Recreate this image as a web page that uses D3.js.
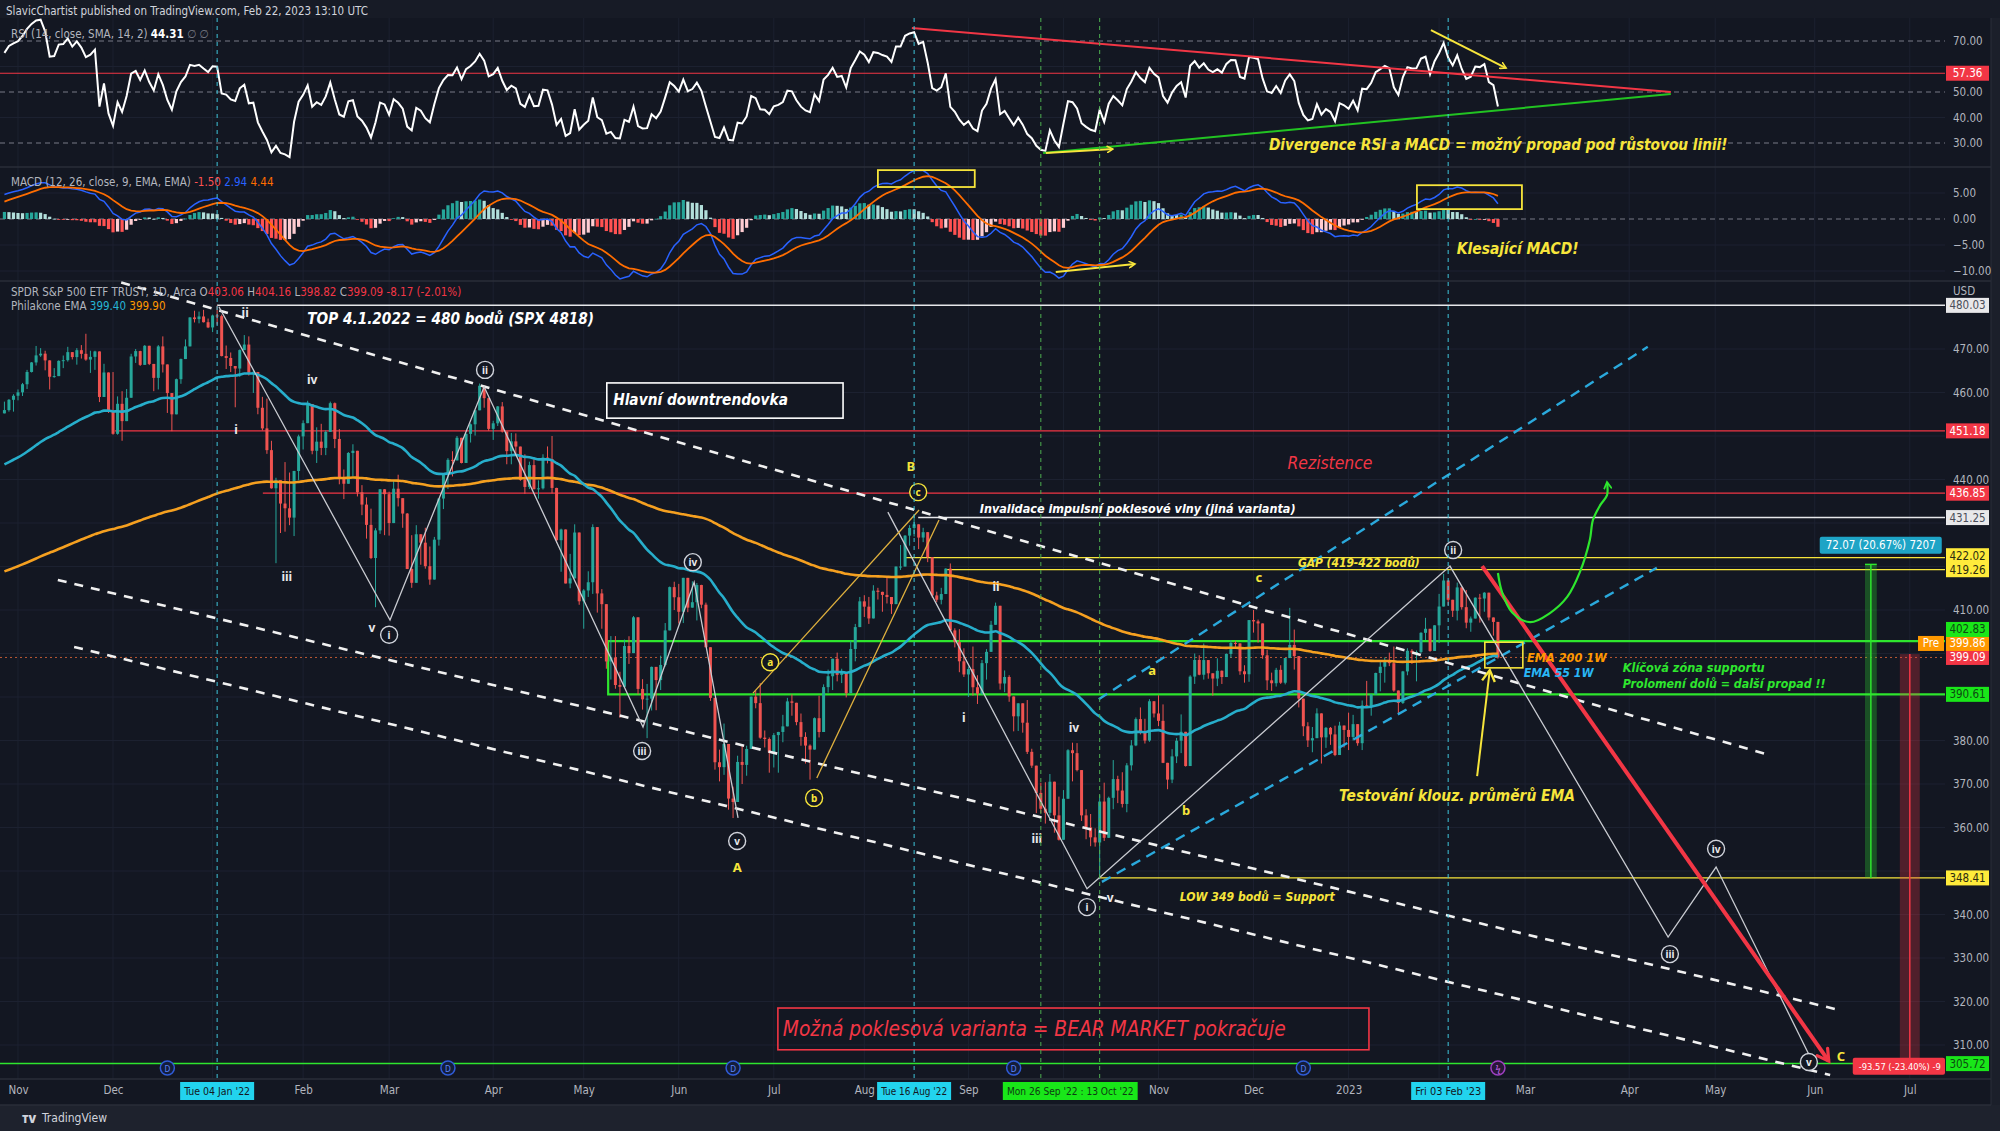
<!DOCTYPE html>
<html>
<head>
<meta charset="utf-8">
<title>SPY daily – SlavicChartist</title>
<script src="https://cdn.jsdelivr.net/npm/d3@7/dist/d3.min.js"></script>
<style>
html,body{margin:0;padding:0;background:#131722;overflow:hidden;}
svg{display:block;}
</style>
</head>
<body>
<svg id="chart" width="2000" height="1131" xmlns="http://www.w3.org/2000/svg"></svg>
<script>
// ================= DATA =================
// Daily SPY bars, one array per month: [high, low, close]
const oct21 = [[457.9,455.5,455.96],[458.5,455.6,458.32],[459.6,455.6,459.25]];
const nov21 = [[460.7,458.2,460.04],[462.2,459.2,461.90],[465.2,460.8,464.72],[467.0,464.6,466.91],[470.7,466.2,468.53],[470.2,468.2,468.93],[469.6,465.1,467.38],[467.4,460.7,463.62],[465.6,463.4,463.77],[467.4,463.8,467.27],[468.5,465.6,467.43],[470.5,467.1,469.28],[469.2,467.6,468.14],[470.2,466.4,469.73],[470.9,467.8,468.89],[473.5,467.3,467.57],[469.6,464.5,468.19],[469.6,465.2,469.44],[463.9,457.8,458.97],[466.6,461.7,464.60],[464.0,455.3,455.56]];
const dec21 = [[464.7,450.3,450.50],[459.1,450.3,457.40],[460.3,448.9,453.42],[460.8,453.6,458.79],[468.9,461.5,468.28],[470.0,466.8,469.52],[469.6,466.1,466.35],[470.9,466.5,470.74],[470.6,466.3,466.57],[465.7,460.3,463.36],[470.9,460.7,470.60],[472.9,464.6,466.45],[464.0,455.3,459.87],[456.4,451.1,454.98],[463.2,456.6,463.06],[467.8,462.0,467.69],[472.2,468.6,470.60],[477.3,472.2,477.26],[478.8,476.1,476.87],[478.6,475.9,477.48],[479.0,476.1,476.16],[477.0,474.8,474.96]];
const jan22 = [[477.9,473.9,477.71],[479.98,475.6,477.55],[477.9,468.3,468.38],[470.8,465.4,467.94],[469.2,464.7,466.09],[465.7,456.6,465.51],[469.9,463.6,469.75],[473.2,470.5,471.02],[472.9,463.9,464.53],[465.1,459.9,464.72],[459.6,455.0,456.49],[459.0,451.3,451.75],[458.6,445.9,446.75],[448.9,437.9,437.98],[440.4,420.76,439.84],[439.7,427.7,434.47],[444.0,428.0,433.38],[441.6,429.5,431.24],[442.0,427.0,441.95],[450.3,439.8,449.91]];
const feb22 = [[453.6,446.9,452.95],[458.1,453.5,457.35],[452.8,445.8,446.60],[452.0,443.8,448.70],[452.8,445.6,447.26],[451.3,445.6,450.94],[457.9,455.0,457.54],[457.7,447.2,449.32],[451.6,438.9,440.46],[442.3,435.5,439.02],[446.3,443.1,446.10],[448.1,440.7,446.60],[443.8,436.1,437.06],[438.7,431.8,434.23],[435.9,426.4,429.57],[433.3,421.7,421.95],[428.8,410.64,428.30],[437.8,427.5,437.75],[437.8,427.2,436.63]];
const mar22 = [[437.2,427.1,429.98],[439.7,430.9,437.89],[441.1,433.8,435.71],[435.5,428.9,432.17],[432.3,419.4,419.43],[427.2,415.1,416.25],[429.5,422.8,427.41],[426.4,420.4,425.48],[428.9,419.5,420.07],[424.6,415.8,417.00],[426.8,418.4,426.17],[435.7,424.8,435.62],[441.1,433.2,441.07],[444.9,437.8,444.52],[446.5,440.7,444.39],[450.0,445.1,449.59],[448.0,443.7,443.80],[450.6,444.8,450.49],[452.9,448.5,452.69],[455.9,450.1,455.91],[462.07,457.2,461.55],[461.2,456.5,458.70],[458.8,451.2,451.64]];
const apr22 = [[453.5,449.1,452.92],[456.9,452.3,456.80],[457.8,450.8,451.03],[448.9,443.5,446.52],[450.7,443.5,448.77],[450.6,445.9,447.57],[445.8,439.7,439.92],[445.8,436.7,438.29],[444.1,437.8,443.31],[444.7,437.7,437.79],[439.8,435.6,437.97],[445.8,437.7,445.04],[447.6,443.7,444.71],[450.0,436.8,438.06],[438.1,425.4,426.04],[428.7,418.8,428.51],[426.0,416.1,416.10],[422.9,415.0,417.27],[429.7,417.3,427.81],[425.9,411.2,412.00]];
const may22 = [[414.8,405.7,414.48],[418.9,413.0,416.38],[429.7,413.7,429.06],[425.0,409.4,413.81],[414.8,405.7,411.34],[406.4,396.5,398.17],[404.0,394.0,399.09],[404.0,391.9,392.75],[395.8,385.2,392.34],[403.2,395.6,401.72],[403.97,397.6,400.09],[408.6,402.6,408.32],[403.9,390.6,391.86],[394.1,387.1,389.46],[393.0,380.54,389.63],[397.0,386.9,396.92],[395.2,386.96,393.89],[399.5,391.6,397.37],[407.0,397.0,405.31],[415.4,407.0,415.26],[416.5,410.0,412.93]];
const jun22 = [[416.0,406.9,409.59],[417.4,407.0,417.39],[414.0,409.5,410.54],[416.6,410.6,411.79],[416.2,407.6,415.74],[415.8,410.4,411.22],[411.7,401.4,401.44],[394.8,389.1,389.80],[381.8,373.3,375.00],[377.9,370.6,373.87],[383.9,372.1,379.20],[370.9,364.1,366.65],[369.4,362.17,365.86],[376.5,371.0,375.07],[378.8,370.0,374.39],[378.8,371.9,378.06],[390.1,381.4,390.08],[391.4,387.4,388.59],[393.2,380.4,380.65],[382.3,378.4,380.34],[380.7,372.6,377.25]];
const jul22 = [[381.7,373.8,381.24],[382.0,372.6,381.96],[385.9,379.6,383.25],[389.8,383.3,388.99],[390.6,385.7,388.67],[386.9,383.5,384.23],[386.2,378.8,380.83],[381.9,374.7,378.83],[379.1,371.0,377.91],[385.3,380.5,385.13],[390.3,380.7,381.95],[392.9,385.4,392.27],[396.3,391.0,394.77],[398.8,391.6,398.79],[400.2,393.6,395.09],[396.5,393.2,395.57],[394.0,389.9,390.89],[402.9,393.7,401.04],[406.8,398.2,406.07],[413.0,406.6,411.99]];
const aug22 = [[413.4,408.4,410.77],[413.0,406.8,408.06],[415.7,410.0,414.45],[415.1,412.4,414.17],[414.2,409.6,413.47],[417.6,411.5,412.99],[412.8,409.1,411.35],[420.0,415.6,419.99],[424.95,419.2,419.99],[427.2,421.0,427.10],[429.5,424.8,428.86],[431.73,426.9,429.70],[428.8,424.0,426.65],[428.9,425.6,427.89],[426.5,421.0,422.14],[417.4,412.8,413.35],[414.2,411.8,412.35],[415.1,411.3,413.67],[419.6,414.5,419.51],[420.7,405.3,405.31],[405.8,401.4,402.63],[405.6,395.7,398.21],[401.2,394.6,395.18]];
const sep22 = [[397.0,390.0,396.42],[401.6,390.3,392.24],[395.0,388.4,390.76],[398.5,390.5,397.78],[401.0,394.0,400.38],[407.5,403.0,406.60],[411.7,408.1,410.97],[403.5,391.7,393.10],[396.1,391.1,394.60],[395.0,388.9,390.12],[386.0,382.1,385.56],[388.5,382.2,388.55],[386.7,381.8,384.09],[389.3,376.9,377.39],[378.1,373.7,374.22],[370.6,363.3,367.95],[370.3,363.3,364.31],[370.4,360.9,363.38],[372.3,362.6,370.53],[365.4,358.8,362.79],[367.1,357.0,357.18]];
const oct22 = [[368.6,357.9,366.61],[378.0,372.2,377.76],[379.5,370.6,377.09],[379.4,372.9,373.20],[369.6,361.5,362.79],[364.2,357.3,360.02],[363.1,355.7,357.74],[359.8,355.6,356.56],[367.4,348.11,365.97],[370.3,356.9,357.63],[367.1,361.4,366.82],[375.5,364.2,371.13],[371.9,365.6,368.50],[372.7,364.6,365.41],[374.8,363.5,374.29],[380.1,373.1,378.87],[385.3,378.7,384.92],[387.6,381.4,382.02],[385.0,379.3,379.98],[389.5,379.7,389.02],[388.4,385.3,386.21]];
const nov22 = [[390.4,383.3,384.52],[388.3,374.8,374.87],[373.7,368.8,371.01],[378.0,370.2,376.35],[380.6,374.8,379.95],[386.0,377.1,382.00],[380.6,374.0,374.13],[395.0,385.6,394.69],[400.0,393.0,398.51],[399.6,395.0,395.12],[402.3,394.0,398.49],[397.4,394.2,395.45],[395.1,390.3,394.24],[398.9,392.5,396.03],[396.1,393.0,394.59],[400.0,395.0,399.90],[403.1,399.0,402.42],[402.9,401.5,402.33],[401.5,395.1,395.91],[397.3,393.3,395.23],[407.7,393.5,407.68]];
const dec22 = [[410.0,404.8,407.38],[407.8,402.5,406.91],[404.9,398.8,399.59],[400.8,391.6,393.83],[395.6,391.4,393.16],[396.7,392.4,396.24],[397.3,393.0,393.28],[398.96,392.9,398.95],[410.49,399.1,401.97],[405.5,396.3,399.40],[393.5,387.6,389.63],[385.9,381.0,383.27],[384.2,378.5,380.02],[383.1,377.3,380.54],[387.4,382.2,386.23],[385.1,374.7,380.72],[383.1,378.3,382.91],[383.1,379.0,381.40],[383.4,376.4,376.66],[384.3,379.1,383.44],[382.6,378.4,382.43]];
const jan23 = [[386.4,377.8,380.82],[385.9,380.0,383.76],[381.8,378.8,379.38],[389.2,377.8,388.08],[393.7,387.7,387.86],[390.7,385.7,390.58],[395.6,391.4,395.52],[398.5,391.3,396.96],[399.1,393.3,398.50],[400.2,397.1,397.77],[401.6,391.2,391.49],[390.0,386.3,388.64],[396.0,388.4,395.88],[401.2,395.0,400.63],[401.0,397.6,400.20],[400.7,393.6,400.35],[404.9,400.0,404.75],[408.2,403.1,405.68],[405.0,400.4,400.59],[406.5,400.8,406.48]];
const feb23 = [[413.7,402.4,410.80],[418.31,412.3,416.78],[416.5,411.1,412.35],[411.3,408.4,409.83],[416.3,407.6,415.19],[414.5,410.1,410.65],[414.6,405.8,407.09],[408.5,405.0,408.04],[412.9,408.1,412.83],[413.7,407.1,412.64],[414.1,409.6,413.98],[412.9,407.6,408.28],[407.6,404.1,407.26],[404.16,398.82,399.09]];
const firstOpen = 455.2;

// indicator states just before the first bar
const rsiStart = {avgGain: 1.45, avgLoss: 0.80};
const macdStart = {ema12: 449.3, ema26: 444.8, signal: 3.0};
const emaStart = {ema55: 443.0, ema200: 418.5};

// axis ticks (bar index from first bar)
const monthTicks = [["Nov",3],["Dec",24],["Feb",66],["Mar",85],["Apr",108],["May",128],["Jun",149],["Jul",170],["Aug",190],["Sep",213],["Nov",255],["Dec",276],["2023",297],["Mar",336],["Apr",359],["May",378],["Jun",400],["Jul",421]];
const gridBars = [3,24,46,66,85,108,128,149,170,190,213,234,255,276,297,317,336,359,378,400,421];
const markedDates = [["Tue 04 Jan '22",47],["Tue 16 Aug '22",201],["Fri 03 Feb '23",319]];
const markedRange = ["Mon 26 Sep '22 : 13 Oct '22",229,242];
const priceTicks = [310,320,330,340,350,360,370,380,390,400,410,420,430,440,450,460,470];
const rsiTicks = [30,40,50,60,70];
const macdTicks = [-10,-5,0,5];

// drawings (bar index, value)
const levelLines = [
  {p:480.03, from:47, kind:"white"},
  {p:451.18, from:24.4, kind:"red"},
  {p:436.85, from:57.1, kind:"red"},
  {p:431.25, from:201.9, kind:"white"},
  {p:422.02, from:199.2, kind:"yellow"},
  {p:419.26, from:208.3, kind:"yellow"},
  {p:348.41, from:241.8, kind:"yellow"},
  {p:305.72, from:-2, kind:"green"}
];
const supportZone = {top:402.83, bottom:390.61, from:133.4};
const lastPrice = 399.09;
const channelWhite = [[[25.8,485.3],[389.9,376.7]],[[11.8,416.9],[405.6,318.0]],[[15.4,401.5],[403.4,303.1]]];
const channelCyan = [[[241.8,389.5],[363.1,470.5]],[[242.5,347.5],[365.1,419.7]]];
const waveLine1 = [[47.4,479.7],[85.2,407.7],[106.0,461.3],[141.1,383.1],[152.4,416.4],[162.1,362.2]];
const waveLine2 = [[195.2,432.5],[239.2,345.9],[319.4,420.1],[367.6,334.8],[378.2,350.9],[399.2,306.8]];
const abcLines = [[[165.4,390.9],[202.1,433.0]],[[179.5,371.4],[206.5,430.7]]];
const waveCircled = [["i",85.0,404.3],["ii",106.2,465.2],["iii",140.9,377.6],["iv",152.1,421.0],["v",161.9,356.9],["i",239.2,341.7],["ii",320.1,423.8],["iii",368.0,330.9],["iv",378.2,355.1],["v",398.7,306.1]];
const wavePlain = [["ii",53.2,478.3],["iv",68.0,462.9],["i",51.2,451.6],["iii",62.4,417.6],["v",81.2,405.9],["ii",219.1,415.3],["i",212.0,385.2],["iv",236.3,382.9],["iii",228.1,357.4],["v",244.3,344.0]];
const abcCircled = [["a",169.2,398.0],["b",178.9,366.8],["c",201.9,437.1]];
const abcPlain = [["B",200.3,443.1],["A",161.9,350.9],["a",253.6,396.2],["b",261.1,364.0],["c",277.2,417.6],["C",405.8,307.5]];
const bearArrow = [[326.5,420.1],[403.1,306.3]];
const bullCurve = [[330.0,418.5],[330.9,414.1],[333.1,409.5],[337.1,407.2],[341.5,409.3],[345.3,413.0],[348.1,418.7],[350.3,426.1],[351.0,430.7],[352.6,434.1],[354.1,436.4],[354.1,439.4]];
const emaBox = [327.1,335.5,402.6,396.7];
const emaArrow = [[325.4,371.8],[328.2,396.2]];
const upMeasure = {k0:411.1, k1:413.7, from:348.41, to:420.48, label:"72.07 (20.67%) 7207", labelK:401.1, labelP:424.9};
const downMeasure = {k0:418.8, k1:423.2, from:399.86, to:306.29, label:"-93.57 (-23.40%) -9", labelK:408.4, labelP:305.1};
const textBoxWhite = [133.1,185.3,462.2,454.1];
const textBoxRed = [170.9,301.5,318.5,308.9];
const rsiRedTrend = [[200.5,75.1],[368.2,50.0]];
const rsiGreenTrend = [[229.5,26.1],[368.2,49.2]];
const rsiLevel = 57.36;
const rsiArrows = [[[230.1,26.1],[244.9,27.6]],[[315.2,74.3],[331.8,59.4]]];
const macdBoxes = [[193.0,214.4,9.4,6.15],[312.1,335.3,6.5,1.9]];
const macdArrow = [[232.3,-10.2],[249.8,-8.65]];
const cyanEventBars = [47,201,319];
const greenEventBars = [229,242];
const dividendBars = [36,98,161,223,287];
const eventBars = [330];
const priceTags = [[480.03,"white"],[451.18,"red"],[436.85,"red"],[431.25,"white"],[422.02,"yellow"],[419.26,"yellow"],[402.83,"green"],[399.86,"orange"],[399.09,"red"],[390.61,"green"],[348.41,"yellow"],[305.72,"green"]];

const annotations = [
  {t:"TOP 4.1.2022 = 480 bodů (SPX 4818)", pane:"main", k:66.9, v:476.9, w:287, c:"#ffffff", fs:20, b:true},
  {t:"Hlavní downtrendovka", pane:"main", k:134.5, v:458.3, w:175, c:"#ffffff", fs:18, b:true},
  {t:"Rezistence", pane:"main", k:283.5, v:443.8, w:85, c:"#f23645", fs:18, b:false},
  {t:"Invalidace impulsní poklesové vlny (jiná varianta)", pane:"main", k:215.5, v:433.4, w:316, c:"#ffffff", fs:15, b:true},
  {t:"GAP (419-422 bodů)", pane:"main", k:285.8, v:420.8, w:122, c:"#f7e53b", fs:15, b:true},
  {t:"Divergence RSI a MACD = možný propad pod růstovou linii!", pane:"rsi", k:279.4, v:29.2, w:459, c:"#f7e53b", fs:18, b:true},
  {t:"Klesající MACD!", pane:"macd", k:320.9, v:-5.77, w:122, c:"#f7e53b", fs:18, b:true},
  {t:"EMA 200 1W", pane:"main", k:336.4, v:399.0, w:80, c:"#ff9800", fs:16, b:true},
  {t:"EMA 55 1W", pane:"main", k:335.7, v:395.5, w:70, c:"#29b6f6", fs:16, b:true},
  {t:"Klíčová zóna supportu", pane:"main", k:357.6, v:396.7, w:142, c:"#2ee62e", fs:15, b:true},
  {t:"Prolomení dolů = další propad !!", pane:"main", k:357.6, v:393.0, w:203, c:"#2ee62e", fs:15, b:true},
  {t:"Testování klouz. průměrů EMA", pane:"main", k:294.9, v:367.2, w:236, c:"#f7e53b", fs:18, b:true},
  {t:"LOW 349 bodů = Support", pane:"main", k:259.7, v:344.0, w:155, c:"#f7e53b", fs:15, b:true},
  {t:"Možná poklesová varianta = BEAR MARKET pokračuje", pane:"main", k:172.0, v:313.7, w:503, c:"#f23645", fs:22, b:false}
];

// ================= BUILD =================
const NARROW = "'Liberation Sans Narrow','Arial Narrow','DejaVu Sans Condensed',sans-serif";
const FL = "'Noto Sans','DejaVu Sans',sans-serif";
const BG = "#131722";
const PR = 1945;
const PANES = {rsi:[18,167], macd:[167,281], main:[281,1079]};

const bars = [].concat(oct21,nov21,dec21,jan22,feb22,mar22,apr22,may22,jun22,jul22,aug22,sep22,oct22,nov22,dec22,jan23,feb23);
const candles = bars.map((b,i)=>{
  const o = i===0 ? firstOpen : bars[i-1][2];
  const c = b[2];
  return {k:i, o, c, hi:Math.max(b[0],o,c), lo:Math.min(b[1],o,c), up:c>=o};
});
const closes = bars.map(b=>b[2]);

// indicators
let ag = rsiStart.avgGain, al = rsiStart.avgLoss, prevC = firstOpen;
const rsi = closes.map((c,i)=>{
  const ch = c-prevC; prevC = c;
  ag = (ag*13 + Math.max(ch,0))/14; al = (al*13 + Math.max(-ch,0))/14;
  return {k:i, v:100-100/(1+ag/al)};
});
let e12 = macdStart.ema12, e26 = macdStart.ema26, sig = macdStart.signal;
const macd = closes.map((c,i)=>{
  e12 += (c-e12)*2/13; e26 += (c-e26)*2/27;
  const m = e12-e26; sig += (m-sig)*2/10;
  return {k:i, m, s:sig, h:m-sig};
});
let e55 = emaStart.ema55, e200 = emaStart.ema200;
const ema55 = [], ema200 = [];
closes.forEach((c,i)=>{ e55 += (c-e55)*2/56; e200 += (c-e200)*2/201; ema55.push({k:i,v:e55}); ema200.push({k:i,v:e200}); });

// scales
const x = d3.scaleLinear().domain([-0.977, 428.78]).range([0, PR]);
const yP = d3.scaleLinear().domain([310,470]).range([1045,349]);
const yR = d3.scaleLinear().domain([30,70]).range([143,41]);
const yM = d3.scaleLinear().domain([-10,5]).range([271,193]);
const yOf = {main:yP, rsi:yR, macd:yM};

const svg = d3.select("#chart");
const defs = svg.append("defs");
Object.entries(PANES).forEach(([n,[t,b]])=>{
  defs.append("clipPath").attr("id","clip-"+n).append("rect").attr("x",0).attr("y",t).attr("width",PR).attr("height",b-t);
});
function marker(id,color){
  defs.append("marker").attr("id",id).attr("viewBox","0 0 10 10").attr("refX",8).attr("refY",5)
    .attr("markerWidth",4).attr("markerHeight",4).attr("orient","auto")
    .append("path").attr("d","M1,1 L8,5 L1,9").attr("fill","none").attr("stroke",color).attr("stroke-width",2).attr("stroke-linecap","round");
}
marker("arRed","#f23645"); marker("arYel","#f7e53b"); marker("arGrn","#2ee62e");
defs.append("marker").attr("id","arYelBig").attr("viewBox","0 0 10 10").attr("refX",8).attr("refY",5)
  .attr("markerWidth",8).attr("markerHeight",8).attr("orient","auto")
  .append("path").attr("d","M1,1 L8,5 L1,9").attr("fill","none").attr("stroke","#f7e53b").attr("stroke-width",1.5);

// backgrounds
svg.append("rect").attr("width",2000).attr("height",1131).attr("fill",BG);
svg.append("rect").attr("x",0).attr("y",0).attr("width",2000).attr("height",18).attr("fill","#171b26");
svg.append("rect").attr("x",0).attr("y",1105).attr("width",2000).attr("height",26).attr("fill","#1e222d");
svg.append("rect").attr("x",1991).attr("y",18).attr("width",9).attr("height",1087).attr("fill","#1b1f2a");

// grid
const grid = svg.append("g").attr("stroke","#1c2130").attr("stroke-width",1);
grid.selectAll("line.v").data(gridBars).join("line").attr("class","v")
  .attr("x1",d=>x(d)).attr("x2",d=>x(d)).attr("y1",18).attr("y2",1079);
grid.selectAll("line.hp").data(priceTicks).join("line").attr("class","hp")
  .attr("x1",0).attr("x2",PR).attr("y1",d=>yP(d)).attr("y2",d=>yP(d));
grid.selectAll("line.hr").data([40,60]).join("line").attr("class","hr")
  .attr("x1",0).attr("x2",PR).attr("y1",d=>yR(d)).attr("y2",d=>yR(d));
grid.selectAll("line.hm").data([-10,-5,5]).join("line").attr("class","hm")
  .attr("x1",0).attr("x2",PR).attr("y1",d=>yM(d)).attr("y2",d=>yM(d));

// pane separators
svg.append("g").attr("stroke","#2a2e39").attr("stroke-width",1.5)
  .selectAll("line").data([167,281,1079,1105]).join("line")
  .attr("x1",0).attr("x2",1991).attr("y1",d=>d).attr("y2",d=>d);
svg.append("line").attr("x1",1991).attr("x2",1991).attr("y1",18).attr("y2",1105).attr("stroke","#2a2e39");

// ---------- RSI pane ----------
const gR = svg.append("g").attr("clip-path","url(#clip-rsi)");
gR.selectAll("line.lvl").data([70,50,30]).join("line").attr("class","lvl")
  .attr("x1",0).attr("x2",PR).attr("y1",d=>yR(d)).attr("y2",d=>yR(d))
  .attr("stroke","#787b86").attr("stroke-dasharray","5,4").attr("stroke-width",1);
gR.append("line").attr("x1",0).attr("x2",PR).attr("y1",yR(rsiLevel)).attr("y2",yR(rsiLevel)).attr("stroke","#f23645").attr("stroke-width",1.2);
gR.append("path").datum(rsi).attr("fill","none").attr("stroke","#ffffff").attr("stroke-width",2)
  .attr("d",d3.line().x(d=>x(d.k)).y(d=>yR(d.v)));
const lineKV = (pane)=>d3.line().x(d=>x(d[0])).y(d=>yOf[pane](d[1]));
gR.append("path").datum(rsiRedTrend).attr("d",lineKV("rsi")).attr("stroke","#f23645").attr("stroke-width",2).attr("fill","none");
gR.append("path").datum(rsiGreenTrend).attr("d",lineKV("rsi")).attr("stroke","#22c322").attr("stroke-width",2).attr("fill","none");
rsiArrows.forEach(a=>gR.append("path").datum(a).attr("d",lineKV("rsi")).attr("stroke","#f7e53b").attr("stroke-width",2).attr("fill","none").attr("marker-end","url(#arYel)"));

// ---------- MACD pane ----------
const gM = svg.append("g").attr("clip-path","url(#clip-macd)");
gM.append("line").attr("x1",0).attr("x2",PR).attr("y1",yM(0)).attr("y2",yM(0)).attr("stroke","#787b86").attr("stroke-dasharray","5,4");
gM.append("g").selectAll("rect").data(macd).join("rect")
  .attr("x",d=>x(d.k)-1.6).attr("width",3.2)
  .attr("y",d=>Math.min(yM(0),yM(d.h))).attr("height",d=>Math.max(0.8,Math.abs(yM(d.h)-yM(0))))
  .attr("fill",(d,i)=>{
    const p = i>0 ? macd[i-1].h : d.h;
    return d.h>=0 ? (d.h>=p ? "#26a69a" : "#b2dfdb") : (d.h<p ? "#ff5252" : "#ffcdd2");
  });
gM.append("path").datum(macd).attr("fill","none").attr("stroke","#2962ff").attr("stroke-width",1.5)
  .attr("d",d3.line().x(d=>x(d.k)).y(d=>yM(d.m)));
gM.append("path").datum(macd).attr("fill","none").attr("stroke","#ff6d00").attr("stroke-width",1.8)
  .attr("d",d3.line().x(d=>x(d.k)).y(d=>yM(d.s)));
macdBoxes.forEach(b=>gM.append("rect").attr("x",x(b[0])).attr("width",x(b[1])-x(b[0])).attr("y",yM(b[2])).attr("height",yM(b[3])-yM(b[2]))
  .attr("fill","none").attr("stroke","#f7e53b").attr("stroke-width",1.8));
gM.append("path").datum(macdArrow).attr("d",lineKV("macd")).attr("stroke","#f7e53b").attr("stroke-width",2).attr("fill","none").attr("marker-end","url(#arYel)");

// ---------- Main pane ----------
const gP = svg.append("g").attr("clip-path","url(#clip-main)");
const levelStyle = {white:["#e6e7ea",1.5], red:["#f23645",1.2], yellow:["#f7e53b",1.3], green:["#2ee62e",1.5]};
gP.selectAll("line.level").data(levelLines).join("line").attr("class","level")
  .attr("x1",d=>x(d.from)).attr("x2",PR).attr("y1",d=>yP(d.p)).attr("y2",d=>yP(d.p))
  .attr("stroke",d=>levelStyle[d.kind][0]).attr("stroke-width",d=>levelStyle[d.kind][1]);
gP.append("path").attr("d",`M${PR},${yP(supportZone.top)}H${x(supportZone.from)}V${yP(supportZone.bottom)}H${PR}`)
  .attr("fill","none").attr("stroke","#2ee62e").attr("stroke-width",2.2);
gP.append("line").attr("x1",0).attr("x2",PR).attr("y1",yP(lastPrice)).attr("y2",yP(lastPrice))
  .attr("stroke","#d9663a").attr("stroke-width",1).attr("stroke-dasharray","2,3").attr("opacity",0.85);

// candles
const gc = gP.append("g");
gc.selectAll("line").data(candles).join("line")
  .attr("x1",d=>x(d.k)).attr("x2",d=>x(d.k)).attr("y1",d=>yP(d.hi)).attr("y2",d=>yP(d.lo))
  .attr("stroke",d=>d.up?"#26a69a":"#ef5350").attr("stroke-width",1);
gc.selectAll("rect").data(candles).join("rect")
  .attr("x",d=>x(d.k)-1.5).attr("width",3)
  .attr("y",d=>yP(Math.max(d.o,d.c))).attr("height",d=>Math.max(1,Math.abs(yP(d.o)-yP(d.c))))
  .attr("fill",d=>d.up?"#26a69a":"#ef5350");

// EMAs
const emaLine = d3.line().x(d=>x(d.k)).y(d=>yP(d.v)).curve(d3.curveMonotoneX);
gP.append("path").datum(ema200).attr("d",emaLine).attr("fill","none").attr("stroke","#f5a020").attr("stroke-width",2.6);
gP.append("path").datum(ema55).attr("d",emaLine).attr("fill","none").attr("stroke","#27aecb").attr("stroke-width",2.6);

// channels & waves
channelWhite.forEach(s=>gP.append("path").datum(s).attr("d",lineKV("main")).attr("stroke","#f0f0f0").attr("stroke-width",2.6).attr("stroke-dasharray","9,8").attr("fill","none"));
channelCyan.forEach(s=>gP.append("path").datum(s).attr("d",lineKV("main")).attr("stroke","#2aa9dc").attr("stroke-width",2.4).attr("stroke-dasharray","10,7").attr("fill","none"));
[waveLine1,waveLine2].forEach(s=>gP.append("path").datum(s).attr("d",lineKV("main")).attr("stroke","#c9cbd1").attr("stroke-width",1.3).attr("fill","none"));
abcLines.forEach(s=>gP.append("path").datum(s).attr("d",lineKV("main")).attr("stroke","#e0b13e").attr("stroke-width",1.3).attr("fill","none"));

function boxKV(g,b,stroke,fill){
  g.append("rect").attr("x",x(b[0])).attr("width",x(b[1])-x(b[0])).attr("y",yP(b[2])).attr("height",yP(b[3])-yP(b[2]))
    .attr("fill",fill).attr("stroke",stroke).attr("stroke-width",1.6);
}
boxKV(gP,textBoxWhite,"#ffffff",BG);
boxKV(gP,textBoxRed,"#f23645","none");

gP.append("path").datum(bearArrow).attr("d",lineKV("main")).attr("stroke","#f23645").attr("stroke-width",4).attr("fill","none").attr("marker-end","url(#arRed)");
gP.append("path").datum(bullCurve).attr("d",lineKV("main").curve(d3.curveCatmullRom)).attr("stroke","#2ee62e").attr("stroke-width",2.2).attr("fill","none").attr("marker-end","url(#arGrn)");
boxKV(gP,emaBox,"#f7e53b","none");
gP.append("path").datum(emaArrow).attr("d",lineKV("main")).attr("stroke","#f7e53b").attr("stroke-width",2).attr("fill","none").attr("marker-end","url(#arYelBig)");

function measure(m,color,fill){
  const g = gP.append("g");
  g.append("rect").attr("x",x(m.k0)).attr("width",x(m.k1)-x(m.k0))
    .attr("y",Math.min(yP(m.from),yP(m.to))).attr("height",Math.abs(yP(m.from)-yP(m.to))).attr("fill",fill);
  const xc = x((m.k0+m.k1)/2);
  g.append("line").attr("x1",xc).attr("x2",xc).attr("y1",yP(m.from)).attr("y2",yP(m.to)).attr("stroke",color).attr("stroke-width",1.5);
  g.append("line").attr("x1",x(m.k0)).attr("x2",x(m.k1)).attr("y1",yP(m.to)).attr("y2",yP(m.to)).attr("stroke",color).attr("stroke-width",1.5);
}
measure(upMeasure,"#2ee62e","rgba(46,230,46,0.28)");
measure(downMeasure,"#f23645","rgba(242,54,69,0.28)");

function circled(g,list,stroke,color){
  const s = g.append("g").selectAll("g").data(list).join("g").attr("transform",d=>`translate(${x(d[1])},${yP(d[2])})`);
  s.append("circle").attr("r",8.5).attr("fill",BG).attr("stroke",stroke).attr("stroke-width",1.4);
  s.append("text").text(d=>d[0]).attr("text-anchor","middle").attr("dominant-baseline","central")
    .attr("font-family",FL).attr("font-size",10).attr("font-weight",700).attr("fill",color);
}
function plain(g,list,color,size){
  g.append("g").selectAll("text").data(list).join("text").text(d=>d[0])
    .attr("x",d=>x(d[1])).attr("y",d=>yP(d[2])).attr("text-anchor","middle").attr("dominant-baseline","central")
    .attr("font-family",FL).attr("font-size",size).attr("font-weight",700).attr("fill",color);
}
circled(gP,waveCircled,"#d1d4dc","#e8e9ec");
plain(gP,wavePlain,"#e8e9ec",12);
circled(gP,abcCircled,"#f7e53b","#f7e53b");
plain(gP,abcPlain,"#f7e53b",13);

// dividends / events
const gD = svg.append("g");
const divs = gD.selectAll("g.d").data(dividendBars).join("g").attr("class","d").attr("transform",d=>`translate(${x(d)},1068)`);
divs.append("circle").attr("r",7).attr("fill","#141d3a").attr("stroke","#2f5bd6").attr("stroke-width",1.5);
divs.append("text").text("D").attr("text-anchor","middle").attr("dominant-baseline","central").attr("font-family",FL).attr("font-size",8).attr("fill","#5b86ff");
const evs = gD.selectAll("g.e").data(eventBars).join("g").attr("class","e").attr("transform",d=>`translate(${x(d)},1068)`);
evs.append("circle").attr("r",7).attr("fill","#2a1638").attr("stroke","#9c3fbf").attr("stroke-width",1.5);
evs.append("text").text("ϟ").attr("text-anchor","middle").attr("dominant-baseline","central").attr("font-family",FL).attr("font-size",9).attr("fill","#c86cf0");

// vertical event lines
const gV = svg.append("g");
gV.selectAll("line.c").data(cyanEventBars).join("line").attr("class","c")
  .attr("x1",d=>x(d)).attr("x2",d=>x(d)).attr("y1",18).attr("y2",1079)
  .attr("stroke","#3fc6dc").attr("stroke-width",1).attr("stroke-dasharray","4,4");
gV.selectAll("line.g").data(greenEventBars).join("line").attr("class","g")
  .attr("x1",d=>x(d)).attr("x2",d=>x(d)).attr("y1",18).attr("y2",1079)
  .attr("stroke","#4caf50").attr("stroke-width",1).attr("stroke-dasharray","4,4");

// annotations fitted to measured widths
const gA = svg.append("g");
annotations.forEach(a=>{
  const t = gA.append("text").text(a.t)
    .attr("x",x(a.k)).attr("y",yOf[a.pane](a.v))
    .attr("dominant-baseline","central")
    .attr("font-family",NARROW).attr("font-style","italic").attr("font-weight",a.b?700:400)
    .attr("font-size",a.fs).attr("fill",a.c);
  const w = t.node().getComputedTextLength();
  if (w>0) t.attr("font-size", Math.min(a.fs*1.4, a.fs*a.w/w));
});

// measurement labels
function measLabel(text,k,p,bg,wFixed){
  const g = svg.append("g");
  const t = g.append("text").text(text).attr("x",x(k)+6).attr("y",yP(p)).attr("dominant-baseline","central")
    .attr("font-family",NARROW).attr("font-size",11.5).attr("fill","#ffffff");
  let w = t.node().getComputedTextLength()+12;
  if (wFixed) { w = wFixed; const tw = t.node().getComputedTextLength(); if (tw > w-10) t.attr("font-size", 11.5*(w-10)/tw); }
  g.insert("rect","text").attr("x",x(k)).attr("y",yP(p)-8.5).attr("width",w).attr("height",17).attr("rx",2).attr("fill",bg);
}
measLabel(upMeasure.label, upMeasure.labelK, upMeasure.labelP, "#1ea4c6");
measLabel(downMeasure.label, downMeasure.labelK, downMeasure.labelP, "#f23645", PR - x(downMeasure.labelK));

// ---------- right-axis tags (layout first so covered ticks can be dropped) ----------
const tags = priceTags.map(([p,kind])=>({p,kind,y:yP(p)})).sort((a,b)=>b.y-a.y);
for (let i=1;i<tags.length;i++){ if (tags[i-1].y - tags[i].y < 14) tags[i].y = tags[i-1].y - 14; }
const tagYs = tags.map(t=>t.y).concat([yR(rsiLevel), 291]);
const free = (y)=>tagYs.every(ty=>Math.abs(ty-y)>=13);

// ---------- axes ----------
function styleAxis(g){
  g.select(".domain").remove();
  g.selectAll("text").attr("fill","#b2b5be").attr("font-family",NARROW).attr("font-size",11.5);
}
svg.append("g").attr("transform",`translate(${PR},0)`)
  .call(d3.axisRight(yP).tickValues(priceTicks.filter(t=>free(yP(t)))).tickFormat(d3.format(".2f")).tickSize(0).tickPadding(8)).call(styleAxis);
svg.append("g").attr("transform",`translate(${PR},0)`)
  .call(d3.axisRight(yR).tickValues(rsiTicks.filter(t=>free(yR(t)))).tickFormat(d3.format(".2f")).tickSize(0).tickPadding(8)).call(styleAxis);
svg.append("g").attr("transform",`translate(${PR},0)`)
  .call(d3.axisRight(yM).tickValues(macdTicks).tickFormat(d3.format(".2f")).tickSize(0).tickPadding(8)).call(styleAxis);
svg.append("text").text("USD").attr("x",PR+8).attr("y",291).attr("dominant-baseline","central")
  .attr("font-family",NARROW).attr("font-size",11.5).attr("fill","#b2b5be");
svg.append("g").attr("transform","translate(0,1079)")
  .call(d3.axisBottom(x).tickValues(monthTicks.map(d=>d[1])).tickFormat((d,i)=>monthTicks[i][0]).tickSize(0).tickPadding(7)).call(styleAxis);

// marked dates on time axis
const gT = svg.append("g");
markedDates.forEach(([lbl,k])=>{
  gT.append("rect").attr("x",x(k)-37).attr("y",1082).attr("width",74).attr("height",18).attr("fill","#22d3ee");
  const t = gT.append("text").text(lbl).attr("x",x(k)).attr("y",1091).attr("text-anchor","middle").attr("dominant-baseline","central")
    .attr("font-family",NARROW).attr("font-size",11.5).attr("fill","#131722");
  const tw = t.node().getComputedTextLength(); if (tw > 66) t.attr("font-size", 11.5*66/tw);
});
{
  const [lbl,k0,k1] = markedRange;
  const bx = x(k0)-38, bw = x(k1)-x(k0)+76;
  gT.append("rect").attr("x",bx).attr("y",1082).attr("width",bw).attr("height",18).attr("fill","#19e619");
  const t = gT.append("text").text(lbl).attr("x",bx+bw/2).attr("y",1091).attr("text-anchor","middle").attr("dominant-baseline","central")
    .attr("font-family",NARROW).attr("font-size",11.5).attr("fill","#0d3b12");
  const tw = t.node().getComputedTextLength(); if (tw > bw-8) t.attr("font-size", 11.5*(bw-8)/tw);
}

// price tags
const tagStyle = {white:["#e8e8ea","#4a4e59"], red:["#f23645","#ffffff"], yellow:["#ffeb3b","#2b2b10"], green:["#19e619","#0d4a12"], orange:["#ff9800","#ffffff"]};
const gTag = svg.append("g");
tags.forEach(t=>{
  const [bg,fg] = tagStyle[t.kind];
  gTag.append("rect").attr("x",PR+1).attr("y",t.y-7.5).attr("width",43).attr("height",15).attr("fill",bg);
  gTag.append("text").text(t.p.toFixed(2)).attr("x",PR+22.5).attr("y",t.y).attr("text-anchor","middle").attr("dominant-baseline","central")
    .attr("font-family",NARROW).attr("font-size",11.5).attr("fill",fg);
  if (t.kind==="orange"){
    gTag.append("rect").attr("x",PR-27).attr("y",t.y-7.5).attr("width",26).attr("height",15).attr("fill","#ff9800");
    gTag.append("text").text("Pre").attr("x",PR-14).attr("y",t.y).attr("text-anchor","middle").attr("dominant-baseline","central")
      .attr("font-family",NARROW).attr("font-size",11.5).attr("fill","#ffffff");
  }
});
gTag.append("rect").attr("x",PR+1).attr("y",yR(rsiLevel)-7.5).attr("width",43).attr("height",15).attr("fill","#f23645");
gTag.append("text").text(rsiLevel.toFixed(2)).attr("x",PR+22.5).attr("y",yR(rsiLevel)).attr("text-anchor","middle").attr("dominant-baseline","central")
  .attr("font-family",NARROW).attr("font-size",11.5).attr("fill","#ffffff");

// ---------- legends ----------
function legend(y, parts){
  const t = svg.append("text").attr("x",11).attr("y",y).attr("dominant-baseline","central").attr("font-family",NARROW).attr("font-size",11.5);
  parts.forEach(([s,c,w])=>t.append("tspan").text(s).attr("fill",c).attr("font-weight",w||400));
}
svg.append("text").text("SlavicChartist published on TradingView.com, Feb 22, 2023 13:10 UTC")
  .attr("x",6).attr("y",11).attr("dominant-baseline","central").attr("font-family",NARROW).attr("font-size",11.5).attr("fill","#d1d4dc");
legend(34, [["RSI (14, close, SMA, 14, 2)  ","#b2b5be"],["44.31","#ffffff",700],["  ∅  ∅","#787b86"]]);
legend(182, [["MACD (12, 26, close, 9, EMA, EMA)  ","#b2b5be"],["-1.50","#ff5252"],["  2.94","#2962ff"],["  4.44","#ff6d00"]]);
legend(292, [["SPDR S&P 500 ETF TRUST, 1D, Arca  ","#b2b5be"],["O","#b2b5be"],["403.06  ","#f23645"],["H","#b2b5be"],["404.16  ","#f23645"],["L","#b2b5be"],["398.82  ","#f23645"],["C","#b2b5be"],["399.09  -8.17 (-2.01%)","#f23645"]]);
legend(306, [["Philakone EMA  ","#b2b5be"],["399.40","#26b5d6"],["  399.90","#ff9800"]]);

// footer logo
svg.append("text").text("TV").attr("x",22).attr("y",1118).attr("dominant-baseline","central")
  .attr("font-family",FL).attr("font-size",11).attr("font-weight",900).attr("fill","#d1d4dc");
svg.append("text").text("TradingView").attr("x",42).attr("y",1118).attr("dominant-baseline","central")
  .attr("font-family",NARROW).attr("font-size",12).attr("fill","#d1d4dc");
</script>
</body>
</html>
